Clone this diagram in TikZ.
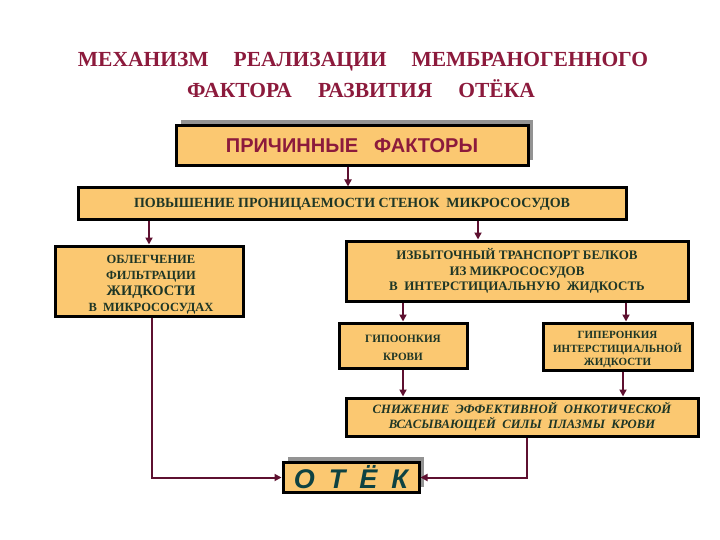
\documentclass[tikz,border=0pt]{standalone}
\usepackage{fontspec}
\setmainfont{Liberation Serif}
\newfontfamily\arialf{Liberation Sans}
\usetikzlibrary{arrows.meta,shadows}
\definecolor{titlered}{HTML}{8C1A3C}
\definecolor{boxfill}{HTML}{FBC871}
\definecolor{txtgreen}{HTML}{1E3626}
\definecolor{linered}{HTML}{5E1030}
\definecolor{otek}{HTML}{0E4242}
\tikzset{
  box/.style={draw=black, line width=3pt, fill=boxfill, inner sep=0pt, align=center,
     text=txtgreen, font=\bfseries},
  shbox/.style={box, general shadow={fill=gray!85, shadow xshift=5pt, shadow yshift=6pt}},
  txt/.style={inner sep=0pt, align=center, text=txtgreen},
  arr/.style={draw=linered, line width=2pt, -{Triangle[length=7pt,width=7pt]}},
}
\begin{document}
\begin{tikzpicture}[x=1pt,y=-1pt]
\useasboundingbox (0,0) rectangle (720,540);
% title
\node[text=titlered, font=\bfseries\fontsize{21.5}{23}\selectfont] (t1) at (363,62)
  {МЕХАНИЗМ\hspace{25pt}РЕАЛИЗАЦИИ\hspace{25pt}МЕМБРАНОГЕННОГО};
\node[text=titlered, font=\bfseries\fontsize{21.5}{23}\selectfont] (t2) at (361,89)
  {ФАКТОРА\hspace{26pt}РАЗВИТИЯ\hspace{26pt}ОТЁКА};
% boxes
\node[shbox, minimum width=352pt, minimum height=40pt, text=titlered,
      font=\arialf\bfseries\fontsize{20}{22}\selectfont] (b1) at (352,146)
  {ПРИЧИННЫЕ\hspace{16pt}ФАКТОРЫ};
\node[box, minimum width=548pt, minimum height=32pt,
      font=\bfseries\fontsize{14}{16}\selectfont] (b2) at (352,204)
  {ПОВЫШЕНИЕ ПРОНИЦАЕМОСТИ СТЕНОК\ \ МИКРОСОСУДОВ};
\node[box, minimum width=188pt, minimum height=70pt] (b3) at (149,281) {};
\node[txt, font=\bfseries\fontsize{12.5}{15.8}\selectfont] (b3t) at (151,284.5)
  {ОБЛЕГЧЕНИЕ\\ФИЛЬТРАЦИИ\\{\fontsize{14.5}{17.5}\selectfont ЖИДКОСТИ}\\В\ \ МИКРОСОСУДАХ};
\node[box, minimum width=342pt, minimum height=60pt,
      font=\bfseries\fontsize{13}{15.5}\selectfont] (b4) at (517,271)
  {ИЗБЫТОЧНЫЙ ТРАНСПОРТ БЕЛКОВ\\ИЗ МИКРОСОСУДОВ\\В\ \ ИНТЕРСТИЦИАЛЬНУЮ\ \ ЖИДКОСТЬ};
\node[box, minimum width=128pt, minimum height=45pt] (b5) at (403,345.5) {};
\node[txt, font=\bfseries\fontsize{11.2}{18}\selectfont] (b5t) at (403,347.5)
  {ГИПООНКИЯ\\КРОВИ};
\node[box, minimum width=149pt, minimum height=47pt] (b6) at (617.5,346.5) {};
\node[txt, font=\bfseries\fontsize{11}{13.5}\selectfont] (b6t) at (617.5,350)
  {ГИПЕРОНКИЯ\\ИНТЕРСТИЦИАЛЬНОЙ\\ЖИДКОСТИ};
\node[box, minimum width=352pt, minimum height=38pt,
      font=\bfseries\itshape\fontsize{12.7}{15}\selectfont] (b7) at (522,417)
  {СНИЖЕНИЕ\ \ ЭФФЕКТИВНОЙ\ \ ОНКОТИЧЕСКОЙ\\ВСАСЫВАЮЩЕЙ\ \ СИЛЫ\ \ ПЛАЗМЫ\ \ КРОВИ};
\node[shbox, minimum width=136pt, minimum height=30pt, text=otek,
      font=\arialf\bfseries\itshape\fontsize{27}{28}\selectfont] (b8) at (351,477.5)
  {О\hspace{14pt}Т\hspace{14pt}Ё\hspace{14pt}К};
% connectors
\draw[arr] ([xshift=-4pt]b1.south) -- ([xshift=-4pt]b1.south |- b2.north);
\draw[arr] (b2.south -| b3.north) -- (b3.north);
\draw[arr] ([xshift=-39pt]b4.north |- b2.south) -- ([xshift=-39pt]b4.north);
\draw[arr] (b4.south -| b5.north) -- (b5.north);
\draw[arr] ([xshift=8.5pt]b6.north |- b4.south) -- ([xshift=8.5pt]b6.north);
\draw[arr] (b5.south) -- (b5.south |- b7.north);
\draw[arr] ([xshift=5.5pt]b6.south) -- ([xshift=5.5pt]b6.south |- b7.north);
\draw[arr] ([xshift=3pt]b3.south) |- (b8.west);
\draw[arr] ([xshift=5pt]b7.south) |- (b8.east);
\end{tikzpicture}
\end{document}
